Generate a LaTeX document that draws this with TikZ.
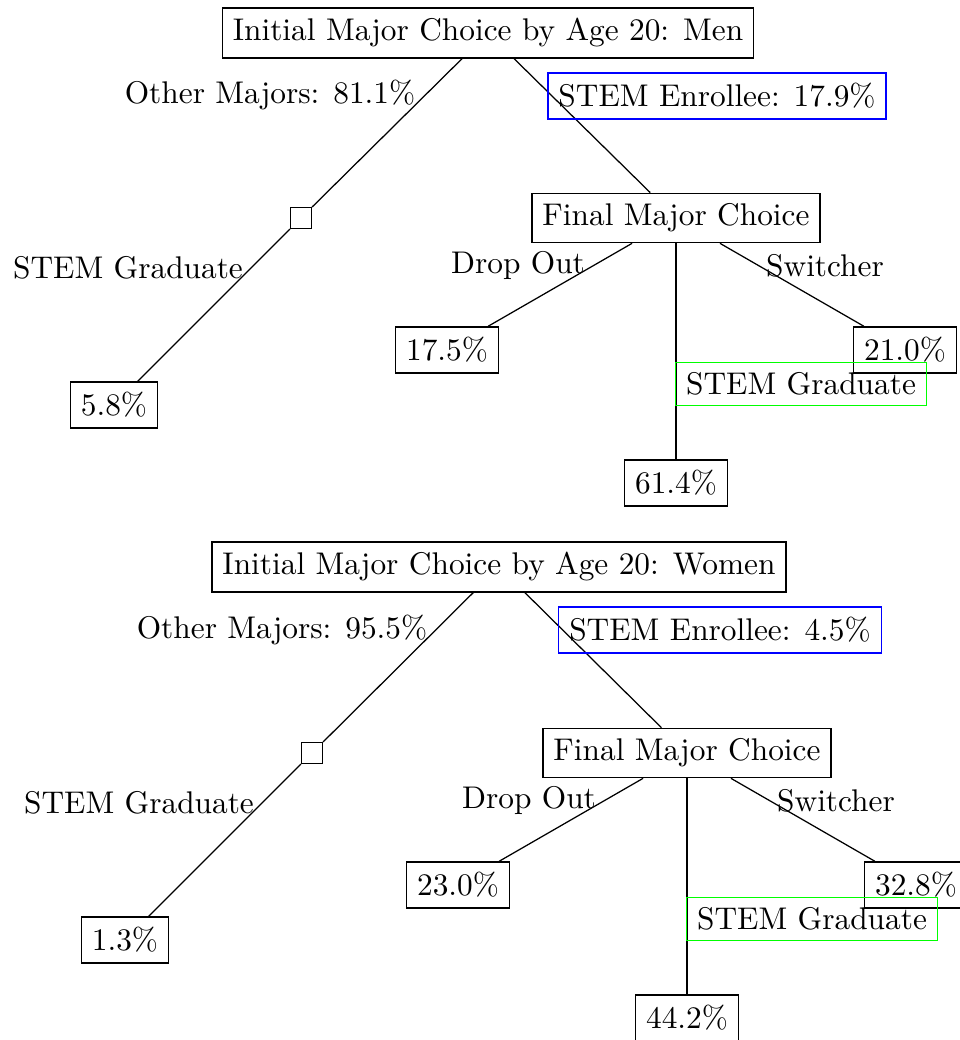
\documentclass[tikz,border=0pt]{standalone}
\begin{document}
\begin{tikzpicture}[x=0.31898pt, y=-0.31898pt,
  box/.style={draw, inner sep=3.33pt},
  lbl/.style={inner sep=3.33pt},
  enr/.style={draw=blue, inner sep=3.33pt},
  grd/.style={draw=green, inner sep=3.33pt},
  sq/.style={draw, inner sep=3.33pt},
  conn/.style={draw, line width=0.4pt}]
\useasboundingbox (0,0) rectangle (959,1040);
% ---------- Men ----------
\node[box] (mroot) at (488,33) {Initial Major Choice by Age 20: Men};
\node[lbl] (mother) at (270,95) {Other Majors: 81.1\%};
\node[sq] (msq) at (301,218) {};
\node[lbl] (mgradl) at (128,268) {STEM Graduate};
\node[box] (mleft) at (114,405) {5.8\%};
\node[box] (mfmc) at (676,218) {Final Major Choice};
\node[lbl] (mdrop) at (518,265) {Drop Out};
\node[lbl] (mswitch) at (825,266) {Switcher};
\node[box] (mdo) at (447,350) {17.5\%};
\node[box] (msw) at (905,350) {21.0\%};
\node[box] (mgr) at (676,483) {61.4\%};
\draw[conn] (mroot) -- (msq) -- (mleft);
\draw[conn] (mroot) -- (mfmc);
\draw[conn] (mfmc) -- (mdo);
\draw[conn] (mfmc) -- (msw);
\draw[conn] (mfmc) -- (mgr);
\node[enr] (menr) at (717,96) {STEM Enrollee: 17.9\%};
\node[grd] (mgrd) at (801,384) {STEM Graduate};
% ---------- Women ----------
\node[box] (wroot) at (499,567) {Initial Major Choice by Age 20: Women};
\node[lbl] (wother) at (282,630) {Other Majors: 95.5\%};
\node[sq] (wsq) at (312,753) {};
\node[lbl] (wgradl) at (139,803) {STEM Graduate};
\node[box] (wleft) at (125,940) {1.3\%};
\node[box] (wfmc) at (687,753) {Final Major Choice};
\node[lbl] (wdrop) at (529,800) {Drop Out};
\node[lbl] (wswitch) at (836,801) {Switcher};
\node[box] (wdo) at (458,885) {23.0\%};
\node[box] (wsw) at (916,885) {32.8\%};
\node[box] (wgr) at (687,1018) {44.2\%};
\draw[conn] (wroot) -- (wsq) -- (wleft);
\draw[conn] (wroot) -- (wfmc);
\draw[conn] (wfmc) -- (wdo);
\draw[conn] (wfmc) -- (wsw);
\draw[conn] (wfmc) -- (wgr);
\node[enr] (wenr) at (720,630) {STEM Enrollee: 4.5\%};
\node[grd] (wgrd) at (812,919) {STEM Graduate};
\end{tikzpicture}
\end{document}
